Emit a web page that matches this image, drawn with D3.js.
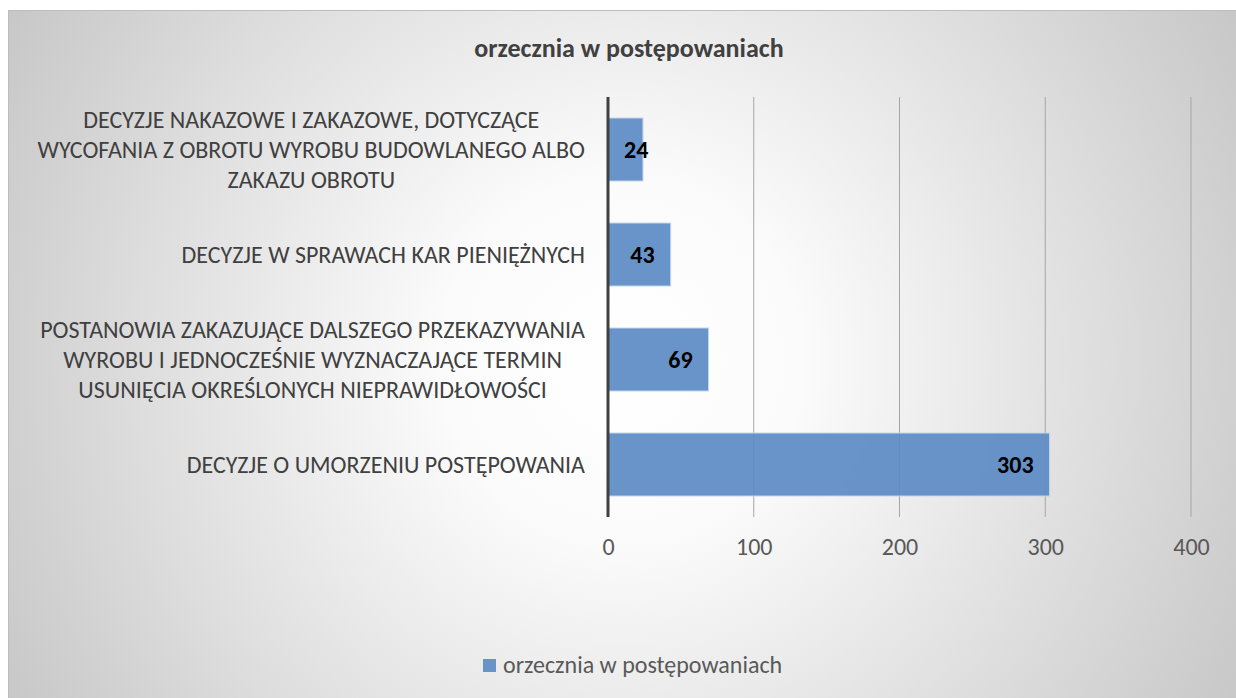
<!DOCTYPE html>
<html>
<head>
<meta charset="utf-8">
<script src="https://cdn.jsdelivr.net/npm/d3@7"></script>
<style>
  body { margin: 0; background: #fff; }
  svg text { font-family: Carlito, Calibri, "Open Sans", sans-serif; }
</style>
</head>
<body>
<svg id="chart" width="1236" height="698"></svg>
<script>
// data
const title = "orzecznia w postępowaniach";
const seriesName = "orzecznia w postępowaniach";
const categories = [
  "DECYZJE NAKAZOWE I ZAKAZOWE, DOTYCZĄCE\nWYCOFANIA Z OBROTU WYROBU BUDOWLANEGO ALBO\nZAKAZU OBROTU",
  "DECYZJE W SPRAWACH KAR PIENIĘŻNYCH",
  "POSTANOWIA ZAKAZUJĄCE DALSZEGO PRZEKAZYWANIA\nWYROBU I JEDNOCZEŚNIE WYZNACZAJĄCE TERMIN\nUSUNIĘCIA OKREŚLONYCH NIEPRAWIDŁOWOŚCI",
  "DECYZJE O UMORZENIU POSTĘPOWANIA"
];
const values = [24, 43, 69, 303];
const xTicks = [0, 100, 200, 300, 400];

const svg = d3.select("#chart");

// background gradient
const defs = svg.append("defs");
const grad = defs.append("radialGradient")
  .attr("id", "bg")
  .attr("gradientUnits", "userSpaceOnUse")
  .attr("cx", 622).attr("cy", 360).attr("r", 720);
grad.append("stop").attr("offset", "0%").attr("stop-color", "#ffffff");
grad.append("stop").attr("offset", "25%").attr("stop-color", "#fbfbfb");
grad.append("stop").attr("offset", "100%").attr("stop-color", "#c6c6c6");

svg.append("rect")
  .attr("x", 8.5).attr("y", 10.5)
  .attr("width", 1240).attr("height", 700)
  .attr("fill", "url(#bg)")
  .attr("stroke", "#bdbdbd");

const plotTop = 97, plotBottom = 517;

const x = d3.scaleLinear().domain([0, 400]).range([608, 1191]);
const y = d3.scaleBand()
  .domain(categories)
  .range([plotTop, plotBottom])
  .paddingInner(0.4)
  .paddingOuter(0.2);

// title
svg.append("text")
  .attr("x", 629).attr("y", 48)
  .attr("dy", "0.35em")
  .attr("text-anchor", "middle")
  .attr("font-size", 26)
  .attr("font-weight", "bold")
  .attr("fill", "#404040")
  .text(title);

// gridlines
svg.append("g")
  .selectAll("line")
  .data(xTicks.filter(d => d > 0))
  .join("line")
  .attr("x1", d => x(d)).attr("x2", d => x(d))
  .attr("y1", plotTop).attr("y2", plotBottom)
  .attr("stroke", "#a6a6a6")
  .attr("stroke-width", 1);

// bars
svg.append("g")
  .selectAll("rect")
  .data(values)
  .join("rect")
  .attr("x", x(0))
  .attr("y", (d, i) => y(categories[i]))
  .attr("width", d => x(d) - x(0))
  .attr("height", y.bandwidth())
  .attr("fill", "#5c8bc4")
  .attr("fill-opacity", 0.92)
  .attr("stroke", "#c6d6ec")
  .attr("stroke-width", 1);

// value labels (inside end)
svg.append("g")
  .selectAll("text")
  .data(values)
  .join("text")
  .attr("y", (d, i) => y(categories[i]) + y.bandwidth() / 2)
  .attr("dy", "0.35em")
  .attr("text-anchor", "end")
  .attr("font-size", 24)
  .attr("font-weight", "bold")
  .attr("fill", "#000")
  .text(d => d)
  .each(function (d) {
    const w = this.getComputedTextLength();
    d3.select(this).attr("x", Math.max(x(d) - 16, x(0) + 16 + w));
  });

// y axis line
svg.append("line")
  .attr("x1", x(0)).attr("x2", x(0))
  .attr("y1", plotTop).attr("y2", plotBottom)
  .attr("stroke", "#404040")
  .attr("stroke-width", 3);

// x tick labels
const xAxis = svg.append("g")
  .attr("transform", `translate(0,${plotBottom})`)
  .call(d3.axisBottom(x).tickValues(xTicks).tickSize(0).tickPadding(21));
xAxis.select(".domain").remove();
xAxis.selectAll("text")
  .attr("font-size", 24)
  .attr("fill", "#595959")
  .style("font-family", 'Carlito, Calibri, "Open Sans", sans-serif');

// category labels: lines centred, block right-aligned
const labelRight = 585, lineH = 30;
categories.forEach(cat => {
  const lines = cat.split("\n");
  const g = svg.append("g");
  const texts = g.selectAll("text")
    .data(lines)
    .join("text")
    .attr("font-size", 24)
    .attr("fill", "#404040")
    .attr("text-anchor", "middle")
    .attr("dy", "0.35em")
    .attr("y", (d, i) => y(cat) + y.bandwidth() / 2 + (i - (lines.length - 1) / 2) * lineH)
    .text(d => d);
  let maxW = 0;
  texts.each(function () { maxW = Math.max(maxW, this.getComputedTextLength()); });
  texts.attr("x", labelRight - maxW / 2);
});

// legend
const legend = svg.append("g");
legend.append("rect")
  .attr("x", 483).attr("y", 659)
  .attr("width", 13).attr("height", 13)
  .attr("fill", "#6894c8");
legend.append("text")
  .attr("x", 503).attr("y", 665)
  .attr("dy", "0.35em")
  .attr("font-size", 24)
  .attr("fill", "#595959")
  .text(seriesName);
</script>
</body>
</html>
